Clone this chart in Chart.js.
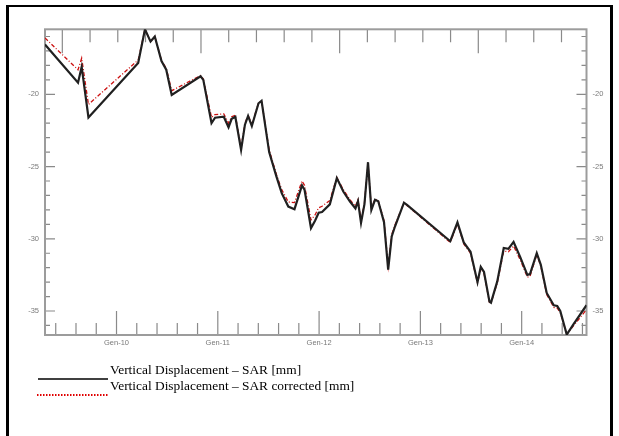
<!DOCTYPE html>
<html>
<head>
<meta charset="utf-8">
<title>Vertical Displacement - SAR</title>
<script src="https://cdn.jsdelivr.net/npm/chart.js@4.4.1/dist/chart.umd.min.js"></script>
<style>
  html, body { margin: 0; padding: 0; background: #fff; }
  #wrap { position: relative; width: 619px; height: 436px; overflow: hidden; }
  #cornice { position: absolute; left: 6px; top: 5px; width: 607px; height: 480px; box-sizing: border-box;
             border: 3px solid #000; border-top-width: 2px; pointer-events: none; }
</style>
</head>
<body>
<div id="wrap">
  <canvas id="grafico" width="619" height="436"></canvas>
  <div id="cornice"></div>
</div>
<script>
// Date delle acquisizioni (anno decimale)
const date = [
  2009.294, 2009.620, 2009.656, 2009.723, 2010.214, 2010.281, 2010.336, 2010.378, 2010.444, 2010.491,
  2010.545, 2010.830, 2010.857, 2010.938, 2010.973, 2011.059, 2011.106, 2011.137, 2011.173, 2011.230,
  2011.268, 2011.299, 2011.336, 2011.402, 2011.432, 2011.507, 2011.579, 2011.631, 2011.696, 2011.757,
  2011.831, 2011.856, 2011.920, 2011.960, 2011.996, 2012.029, 2012.106, 2012.175, 2012.239, 2012.305,
  2012.359, 2012.384, 2012.414, 2012.448, 2012.483, 2012.516, 2012.552, 2012.584, 2012.641, 2012.682,
  2012.717, 2012.749, 2012.838, 2012.868, 2013.295, 2013.366, 2013.428, 2013.495, 2013.564, 2013.596,
  2013.628, 2013.682, 2013.697, 2013.759, 2013.823, 2013.869, 2013.920, 2013.985, 2014.056, 2014.082,
  2014.149, 2014.189, 2014.247, 2014.317, 2014.351, 2014.381, 2014.445, 2014.509, 2014.640
];
// Spostamento verticale SAR [mm]
const sar = [
  -16.55, -19.20, -18.10, -21.60, -17.83, -15.50, -16.35, -16.00, -17.70, -18.30,
  -20.05, -18.75, -19.00, -22.00, -21.62, -21.55, -22.28, -21.70, -21.55, -23.85,
  -22.10, -21.50, -22.20, -20.62, -20.45, -24.00, -25.70, -26.84, -27.77, -27.95,
  -26.30, -26.60, -29.26, -28.75, -28.20, -28.15, -27.62, -25.80, -26.73, -27.42,
  -27.90, -27.40, -28.90, -27.60, -24.70, -28.00, -27.30, -27.40, -28.85, -32.14,
  -29.84, -29.15, -27.50, -27.65, -30.17, -28.86, -30.25, -30.90, -33.00, -31.95,
  -32.30, -34.35, -34.42, -32.95, -30.64, -30.70, -30.22, -31.25, -32.50, -32.45,
  -31.00, -31.80, -33.75, -34.60, -34.65, -35.00, -36.63, -35.94, -34.60
];
// Spostamento verticale SAR corretto [mm]
const sarCorretto = [
  -16.10, -18.30, -17.50, -20.70, -17.63, -15.50, -16.35, -16.00, -17.65, -18.20,
  -19.75, -18.70, -18.95, -21.60, -21.40, -21.35, -22.00, -21.55, -21.45, -23.70,
  -22.00, -21.45, -22.10, -20.60, -20.45, -23.85, -25.55, -26.60, -27.45, -27.50,
  -26.00, -26.30, -28.70, -28.35, -27.85, -27.75, -27.35, -25.75, -26.60, -27.30,
  -27.75, -27.30, -28.75, -27.50, -24.80, -27.90, -27.25, -27.35, -28.75, -31.90,
  -29.70, -29.05, -27.50, -27.70, -30.25, -28.95, -30.35, -31.00, -33.05, -32.05,
  -32.40, -34.40, -34.45, -33.05, -30.85, -30.90, -30.50, -31.45, -32.65, -32.60,
  -31.10, -31.90, -33.85, -34.75, -34.80, -35.10, -36.60, -36.05, -34.90
];
const etichette = ['Vertical Displacement \u2013 SAR [mm]', 'Vertical Displacement \u2013 SAR corrected [mm]'];

// Limiti degli assi
const xMin = 2009.294, xMax = 2014.64;
const yMin = -36.66, yMax = -15.5;
// asse superiore: giorni (tacche ogni 100, maggiori ogni 500)
const rifGiorni = 2009.465;

const punti = (serie) => serie.map((v, i) => ({ x: date[i], y: v }));
const fontTick = { family: "'Liberation Sans', Arial, sans-serif", size: 7.5 };

// Tacche interne stile IDL + cornice del grafico + legenda
const assiIdl = {
  id: 'assiIdl',
  beforeDatasetsDraw(chart) {
    const { ctx, chartArea: a, scales } = chart;
    ctx.save();
    ctx.strokeStyle = '#8a8a8a';
    ctx.lineWidth = 1.2;
    ctx.beginPath();
    scales.x.ticks.forEach(t => {
      const px = scales.x.getPixelForValue(t.value);
      const l = Math.abs(t.value - Math.round(t.value)) < 1e-6 ? 24 : 12;
      ctx.moveTo(px, a.bottom); ctx.lineTo(px, a.bottom - l);
    });
    scales.x2.ticks.forEach(t => {
      const px = scales.x2.getPixelForValue(t.value);
      const l = Math.round(t.value) % 500 === 0 ? 24 : 13;
      ctx.moveTo(px, a.top); ctx.lineTo(px, a.top + l);
    });
    scales.y.ticks.forEach(t => {
      const py = scales.y.getPixelForValue(t.value);
      const l = Math.round(t.value) % 5 === 0 ? 10 : 5;
      ctx.moveTo(a.left, py); ctx.lineTo(a.left + l, py);
      ctx.moveTo(a.right, py); ctx.lineTo(a.right - l, py);
    });
    ctx.stroke();
    ctx.strokeStyle = '#9c9c9c';
    ctx.lineWidth = 2;
    ctx.strokeRect(a.left, a.top, a.right - a.left, a.bottom - a.top);
    ctx.restore();
  },
  afterDraw(chart) {
    const ctx = chart.ctx;
    ctx.save();
    ctx.strokeStyle = '#000';
    ctx.lineWidth = 1.5;
    ctx.beginPath(); ctx.moveTo(38, 379); ctx.lineTo(108, 379); ctx.stroke();
    ctx.strokeStyle = '#e00000';
    ctx.lineWidth = 2;
    ctx.setLineDash([1.5, 1.5]);
    ctx.beginPath(); ctx.moveTo(37, 395); ctx.lineTo(108, 395); ctx.stroke();
    ctx.setLineDash([]);
    ctx.fillStyle = '#000';
    ctx.font = "13.4px 'Liberation Serif', 'Times New Roman', serif";
    ctx.textBaseline = 'alphabetic';
    ctx.fillText(etichette[0], 110, 374);
    ctx.fillText(etichette[1], 110, 389.5);
    ctx.restore();
  }
};

const ctx = document.getElementById('grafico').getContext('2d');
const grafico = new Chart(ctx, {
  type: 'line',
  data: {
    datasets: [
      {
        label: etichette[0],
        data: punti(sar),
        borderColor: '#202020',
        borderWidth: 2.2,
        pointRadius: 0,
        tension: 0,
        order: 1
      },
      {
        label: etichette[1],
        data: punti(sarCorretto),
        borderColor: '#cc1010',
        borderWidth: 1.3,
        borderDash: [4, 2, 1, 2],
        pointRadius: 0,
        tension: 0,
        order: 2
      }
    ]
  },
  options: {
    responsive: false,
    animation: false,
    layout: { padding: 0 },
    plugins: { legend: { display: false }, tooltip: { enabled: false } },
    scales: {
      x: {
        type: 'linear', position: 'bottom', min: xMin, max: xMax,
        grid: { display: false, drawTicks: false }, border: { display: false },
        ticks: {
          stepSize: 0.2, includeBounds: false, autoSkip: false, maxRotation: 0,
          padding: 3, color: '#7a7a7a', font: fontTick,
          callback: v => Math.abs(v - Math.round(v)) < 1e-6 ? 'Gen-' + String(Math.round(v)).slice(2) : ''
        },
        afterFit: s => { s.height = 101; }
      },
      x2: {
        type: 'linear', position: 'top',
        min: (xMin - rifGiorni) * 365.25, max: (xMax - rifGiorni) * 365.25,
        grid: { display: false, drawTicks: false }, border: { display: false },
        ticks: { display: false, stepSize: 100, includeBounds: false, autoSkip: false },
        afterFit: s => { s.height = 29.3; }
      },
      y: {
        type: 'linear', position: 'left', min: yMin, max: yMax,
        grid: { display: false, drawTicks: false }, border: { display: false },
        ticks: {
          stepSize: 1, includeBounds: false, autoSkip: false, padding: 6,
          color: '#7a7a7a', font: fontTick,
          callback: v => Math.round(v) % 5 === 0 ? String(Math.round(v)) : ''
        },
        afterFit: s => { s.width = 45; }
      },
      y2: {
        type: 'linear', position: 'right', min: yMin, max: yMax,
        grid: { display: false, drawTicks: false }, border: { display: false },
        ticks: {
          stepSize: 1, includeBounds: false, autoSkip: false, padding: 6,
          color: '#7a7a7a', font: fontTick,
          callback: v => Math.round(v) % 5 === 0 ? String(Math.round(v)) : ''
        },
        afterFit: s => { s.width = 32.5; }
      }
    }
  },
  plugins: [assiIdl]
});
</script>
</body>
</html>
